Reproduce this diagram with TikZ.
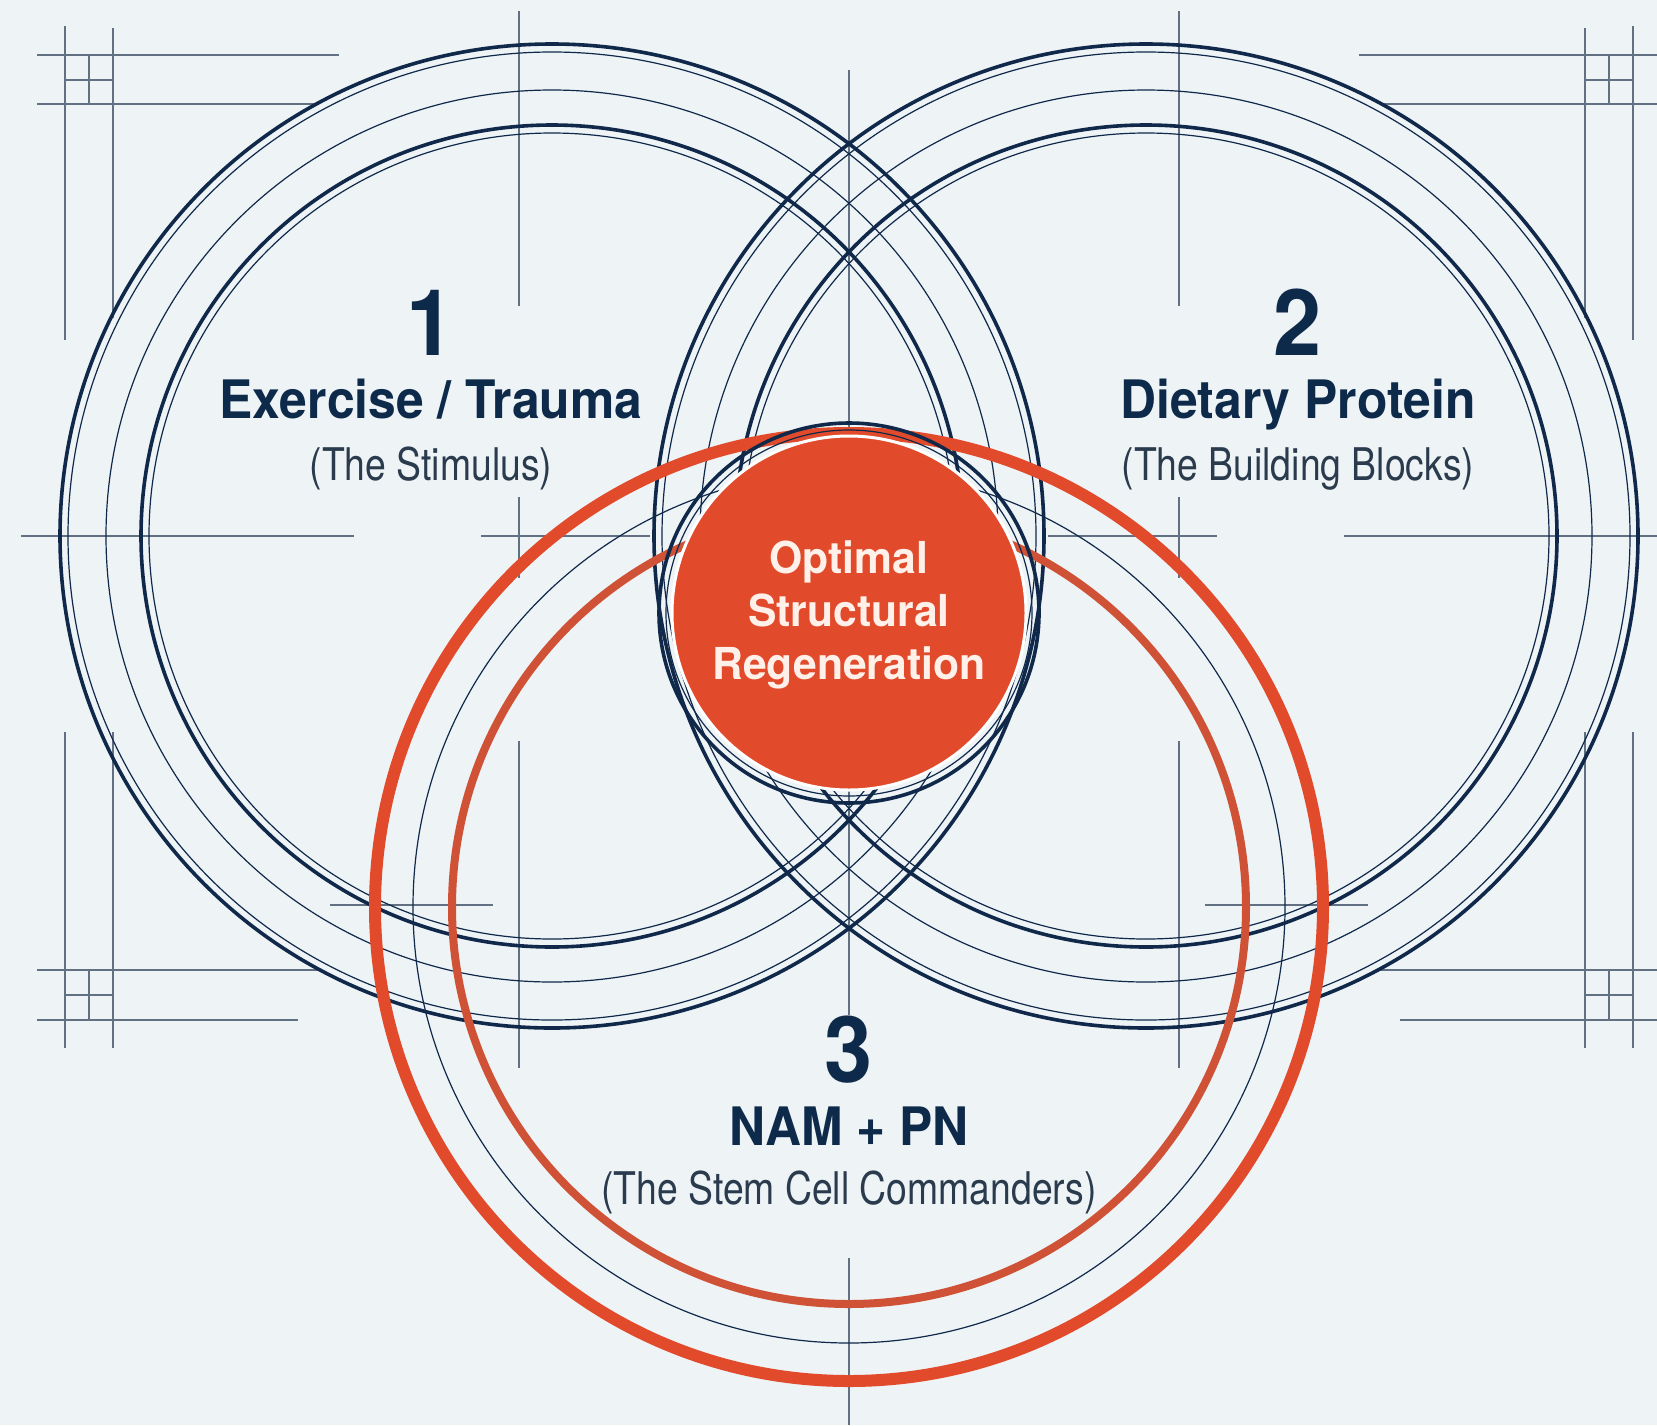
\documentclass[tikz,border=0pt]{standalone}
\usepackage{fontspec}
\newfontfamily\titlefont[FakeStretch=0.94]{TeX Gyre Heros}
\newfontfamily\subfont[FakeStretch=0.83]{TeX Gyre Heros}
\newfontfamily\corefont[FakeStretch=0.97]{TeX Gyre Heros}
\definecolor{bg}{HTML}{EEF3F6}
\definecolor{navy}{HTML}{10294A}
\definecolor{guidec}{HTML}{617183}
\definecolor{redo}{HTML}{E14B2B}
\definecolor{redi}{HTML}{CF5236}
\definecolor{txt}{HTML}{0E2A4A}
\definecolor{subtxt}{HTML}{2B3B4E}
\definecolor{coretxt}{HTML}{FFF1EA}
\tikzset{
  guide/.style={draw=guidec, line width=1.8pt},
  navythick/.style={draw=navy, line width=3.6pt},
  navythin/.style={draw=navy, line width=1.2pt},
  redthick/.style={draw=redo, line width=12pt},
  redmid/.style={draw=redi, line width=8pt},
  numlabel/.style={anchor=base, inner sep=0pt, text=txt, font=\titlefont\bfseries\fontsize{92}{92}\selectfont},
  titlelabel/.style={anchor=base, inner sep=0pt, text=txt, font=\titlefont\bfseries\fontsize{53}{60}\selectfont},
  sublabel/.style={anchor=base, inner sep=0pt, text=subtxt, font=\subfont\fontsize{45}{52}\selectfont},
  corelabel/.style={anchor=base, inner sep=0pt, text=coretxt, font=\corefont\bfseries\fontsize{44}{52}\selectfont}
}
\begin{document}
\begin{tikzpicture}[x=1pt,y=-1pt]
\fill[bg] (0,0) rectangle (1657,1425);
\useasboundingbox (0,0) rectangle (1657,1425);

% ---------- guide lines ----------
% top-left corner
\draw[guide] (65,26) -- (65,340);
\draw[guide] (113,28) -- (113,318);
\draw[guide] (37,55) -- (339,55);
\draw[guide] (37,104) -- (317,104);
\draw[guide] (89,55) -- (89,104);
\draw[guide] (65,80) -- (113,80);
% bottom-left corner
\draw[guide] (65,732) -- (65,1048);
\draw[guide] (113,732) -- (113,1048);
\draw[guide] (37,970) -- (318,970);
\draw[guide] (37,1020) -- (298,1020);
\draw[guide] (89,970) -- (89,1020);
\draw[guide] (65,995) -- (113,995);
% top-right corner
\draw[guide] (1633,26) -- (1633,340);
\draw[guide] (1585,28) -- (1585,318);
\draw[guide] (1359,55) -- (1657,55);
\draw[guide] (1381,104) -- (1657,104);
\draw[guide] (1609,55) -- (1609,104);
\draw[guide] (1585,80) -- (1633,80);
% bottom-right corner
\draw[guide] (1633,732) -- (1633,1048);
\draw[guide] (1585,732) -- (1585,1048);
\draw[guide] (1380,970) -- (1657,970);
\draw[guide] (1400,1020) -- (1657,1020);
\draw[guide] (1609,970) -- (1609,1020);
\draw[guide] (1585,995) -- (1633,995);
% crosshairs left
\draw[guide] (21,536) -- (354,536);
\draw[guide] (481,536) -- (650,536);
\draw[guide] (519,497) -- (519,578);
\draw[guide] (519,11) -- (519,306);
\draw[guide] (519,741) -- (519,1068);
\draw[guide] (330,905) -- (493,905);
% crosshairs right
\draw[guide] (1344,536) -- (1657,536);
\draw[guide] (1048,536) -- (1217,536);
\draw[guide] (1179,497) -- (1179,578);
\draw[guide] (1179,11) -- (1179,306);
\draw[guide] (1179,741) -- (1179,1068);
\draw[guide] (1205,905) -- (1368,905);
% center axis
\draw[guide] (849,70) -- (849,1015);
\draw[guide] (849,1258) -- (849,1425);

% ---------- navy circle sets ----------
\coordinate (cl) at (552,536);
\coordinate (cr) at (1146,536);
\foreach \c in {cl,cr}{
  \draw[navythick] (\c) circle[radius=492pt];
  \draw[navythin]  (\c) circle[radius=484pt];
  \draw[navythin]  (\c) circle[radius=446pt];
  \draw[navythick] (\c) circle[radius=411pt];
  \draw[navythin]  (\c) circle[radius=403pt];
}

% ---------- red circle set ----------
\coordinate (cb) at (849,907);
\draw[navythin] (cb) circle[radius=436pt];
\draw[redmid] (cb) circle[radius=397pt];
\draw[redthick] (cb) circle[radius=474pt];

% ---------- core ----------
\draw[navythick] (849,613) circle[radius=190pt];
\draw[navythin] (849,613) circle[radius=183pt];
\node[circle, fill=redo, draw=white, line width=3pt, minimum size=354pt, inner sep=0pt] (core) at (849,613) {};
\node[corelabel] (c1) at (849,573) {Optimal};
\node[corelabel] (c2) at (849,626) {Structural};
\node[corelabel] (c3) at (849,679) {Regeneration};

% ---------- labels ----------
\node[numlabel] (n1) at (431,355) {1};
\node[titlelabel] (t1) at (431,418) {Exercise / Trauma};
\node[sublabel] (s1) at (431,480) {(The Stimulus)};

\node[numlabel] (n2) at (1298,355) {2};
\node[titlelabel] (t2) at (1298,418) {Dietary Protein};
\node[sublabel] (s2) at (1298,480) {(The Building Blocks)};

\node[numlabel] (n3) at (849,1082) {3};
\node[titlelabel] (t3) at (849,1145) {NAM + PN};
\node[sublabel] (s3) at (849,1204) {(The Stem Cell Commanders)};
\end{tikzpicture}
\end{document}
